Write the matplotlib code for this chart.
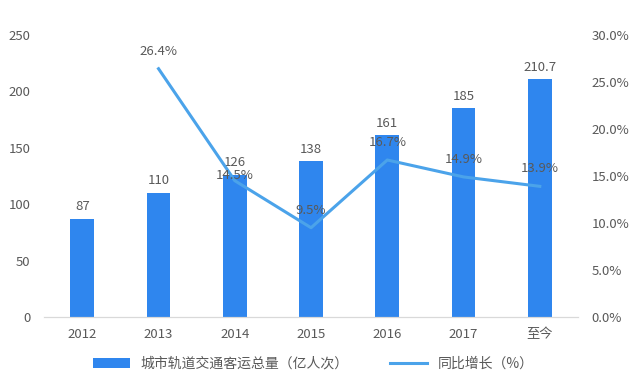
import matplotlib
matplotlib.use('Agg')
import matplotlib.pyplot as plt
from matplotlib.ticker import FuncFormatter

plt.rcParams['font.family'] = ['Noto Sans CJK SC', 'DejaVu Sans']

years = ['2012', '2013', '2014', '2015', '2016', '2017', '至今']
volume = [87, 110, 126, 138, 161, 185, 210.7]
volume_labels = ['87', '110', '126', '138', '161', '185', '210.7']
growth_years = ['2013', '2014', '2015', '2016', '2017', '至今']
growth = [26.4, 14.5, 9.5, 16.7, 14.9, 13.9]

bar_color = '#2f86ee'
line_color = '#4ba3ea'
text_color = '#595959'

fig = plt.figure(figsize=(6.4, 3.83), dpi=100)
ax = fig.add_axes([0.069, 0.172, 0.834, 0.737])
ax2 = ax.twinx()

x = list(range(len(years)))
bars = ax.bar(x, volume, width=0.31, color=bar_color, zorder=2)
for xi, v, lab in zip(x, volume, volume_labels):
    ax.annotate(lab, (xi, v), xytext=(0, 4), textcoords='offset points',
                ha='center', va='bottom', fontsize=9.5, color=text_color)

gx = [years.index(g) for g in growth_years]
line, = ax2.plot(gx, growth, color=line_color, lw=2.2, zorder=3)
# label offsets (points) picked to sit like the original
label_dy = {'2014': -1}
for yr, xi, g in zip(growth_years, gx, growth):
    ax2.annotate(f'{g}%', (xi, g), xytext=(0, label_dy.get(yr, 8)), textcoords='offset points',
                 ha='center', va='bottom', fontsize=9.5, color=text_color)

ax.set_xlim(-0.5, len(years) - 0.5)
ax.set_ylim(0, 250)
ax2.set_ylim(0, 30)
ax.set_yticks([0, 50, 100, 150, 200, 250])
ax2.set_yticks([0, 5, 10, 15, 20, 25, 30])
ax2.yaxis.set_major_formatter(FuncFormatter(lambda v, p: f'{v:.1f}%'))
ax.set_xticks(x)
ax.set_xticklabels(years)

for a in (ax, ax2):
    for s in ('top', 'left', 'right'):
        a.spines[s].set_visible(False)
    a.spines['bottom'].set_color('#d9d9d9')
    a.tick_params(length=0, labelsize=9.5, colors=text_color)
ax.tick_params(axis='x', pad=8)
ax.tick_params(axis='y', pad=10)
ax2.tick_params(axis='y', pad=10)

ax.set_zorder(ax2.get_zorder() - 1)
ax.patch.set_visible(False)

fig.legend([bars, line], ['城市轨道交通客运总量（亿人次）', '同比增长（%）'],
           loc='lower center', bbox_to_anchor=(0.49, 0.0), ncol=2, frameon=False,
           fontsize=10, labelcolor=text_color, handlelength=2.6, columnspacing=3)

fig.savefig('out.png', dpi=100, facecolor='white')
